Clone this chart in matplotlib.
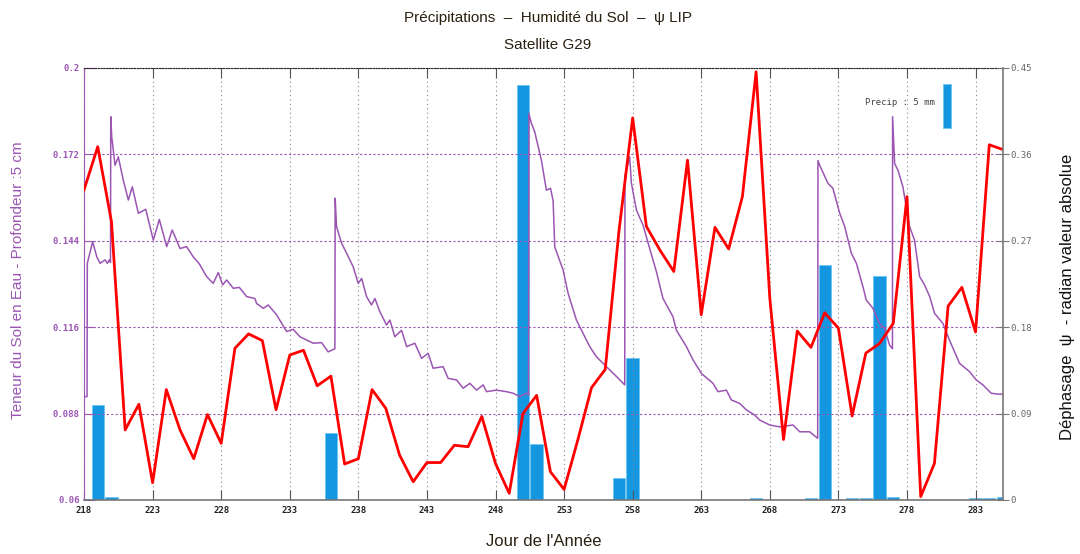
import matplotlib
matplotlib.use('Agg')
import matplotlib.pyplot as plt

# Jour de l'annee / phase (radian, valeur absolue)
phase_days = list(range(218, 286))
phase_vals = [0.323, 0.368, 0.29, 0.073, 0.0997, 0.018, 0.115, 0.073, 0.043, 0.089,
              0.059, 0.158, 0.173, 0.166, 0.094, 0.151, 0.156, 0.119, 0.129, 0.0375,
              0.043, 0.115, 0.0955, 0.047, 0.019, 0.039, 0.039, 0.057, 0.0555, 0.087,
              0.038, 0.007, 0.090, 0.109, 0.0295, 0.011, 0.0625, 0.117, 0.136, 0.28,
              0.398, 0.285, 0.26, 0.238, 0.354, 0.193, 0.284, 0.2615, 0.316, 0.446,
              0.21, 0.063, 0.176, 0.159, 0.195, 0.179, 0.0875, 0.153, 0.163, 0.184,
              0.316, 0.0035, 0.038, 0.202, 0.2215, 0.175, 0.37, 0.365]

# precipitations (mm)
precip_days = [218, 219, 220, 236, 250, 251, 257, 258, 267, 271, 272, 274, 275, 276, 277, 283, 284, 285]
precip_mm = [0.1, 10.8, 0.38, 7.65, 47.2, 6.36, 2.53, 16.1, 0.17, 0.17, 26.7, 0.17, 0.17, 25.45, 0.38, 0.17, 0.17, 0.34]

# humidite du sol (m3/m3), 5 cm
soil_days = [218.00, 218.22, 218.24, 218.63, 218.93, 219.17, 219.53, 219.70, 219.84, 219.93,
             219.95, 220.02, 220.26, 220.50, 220.86, 221.23, 221.52, 221.96, 222.50, 223.05,
             223.49, 224.03, 224.43, 225.00, 225.48, 225.96, 226.38, 226.94, 227.42, 227.79,
             228.11, 228.40, 228.88, 229.32, 229.86, 230.46, 230.58, 231.07, 231.43, 232.04,
             232.77, 233.25, 233.74, 234.71, 235.32, 235.80, 236.29, 236.31, 236.41, 236.78,
             237.14, 237.62, 237.99, 238.24, 238.60, 238.96, 239.21, 239.57, 240.06, 240.30,
             240.66, 241.15, 241.52, 242.12, 242.61, 243.09, 243.45, 244.18, 244.55, 245.16,
             245.64, 246.13, 246.62, 247.10, 247.35, 248.07, 248.80, 249.28, 249.77, 250.26,
             250.41, 250.43, 250.62, 250.86, 251.35, 251.71, 252.01, 252.20, 252.32, 252.93,
             253.29, 253.90, 254.27, 254.87, 255.36, 256.09, 256.82, 257.42, 257.44, 257.66,
             257.78, 257.91, 258.27, 258.76, 259.24, 259.73, 260.21, 260.94, 261.19, 261.92,
             262.40, 263.01, 263.86, 264.22, 264.83, 265.20, 265.80, 266.29, 266.90, 267.26,
             267.99, 268.72, 269.69, 270.18, 270.90, 271.49, 271.51, 271.63, 272.24, 272.60,
             273.09, 273.46, 273.94, 274.31, 274.79, 275.03, 275.52, 276.00, 276.37, 276.73,
             276.94, 276.95, 277.10, 277.34, 277.70, 277.95, 278.19, 278.55, 278.92, 279.28,
             279.65, 280.01, 280.62, 281.10, 281.83, 282.56, 283.05, 283.53, 284.14, 284.62,
             285.00]
soil_vals = [0.0935, 0.0935, 0.1367, 0.1437, 0.1388, 0.1367, 0.1378, 0.1367, 0.1378, 0.1370,
             0.1842, 0.1777, 0.1685, 0.1712, 0.1637, 0.1572, 0.1615, 0.1529, 0.1542, 0.1442,
             0.1509, 0.1421, 0.1475, 0.1415, 0.1421, 0.1388, 0.1367, 0.1324, 0.1302, 0.1337,
             0.1297, 0.1313, 0.1286, 0.1289, 0.1259, 0.1253, 0.1237, 0.1221, 0.1232, 0.1200,
             0.1146, 0.1153, 0.1129, 0.1108, 0.1110, 0.1080, 0.1090, 0.1578, 0.1486, 0.1432,
             0.1400, 0.1356, 0.1302, 0.1318, 0.1259, 0.1232, 0.1253, 0.1210, 0.1167, 0.1183,
             0.1129, 0.1150, 0.1097, 0.1108, 0.1059, 0.1075, 0.1027, 0.1032, 0.0994, 0.0989,
             0.0962, 0.0978, 0.0956, 0.0973, 0.0951, 0.0956, 0.0951, 0.0946, 0.0935, 0.0946,
             0.0940, 0.1853, 0.1820, 0.1793, 0.1700, 0.1604, 0.1610, 0.1570, 0.1420, 0.1345,
             0.1270, 0.1183, 0.1150, 0.1097, 0.1064, 0.1032, 0.1000, 0.0973, 0.1650, 0.1690,
             0.1712, 0.1626, 0.1540, 0.1490, 0.1415, 0.1340, 0.1253, 0.1194, 0.1150, 0.1097,
             0.1054, 0.1010, 0.0978, 0.0951, 0.0956, 0.0924, 0.0913, 0.0892, 0.0875, 0.0859,
             0.0843, 0.0837, 0.0843, 0.0821, 0.0821, 0.0800, 0.1700, 0.1685, 0.1626, 0.1610,
             0.1530, 0.1486, 0.1400, 0.1367, 0.1291, 0.1248, 0.1221, 0.1172, 0.1156, 0.1102,
             0.1090, 0.1842, 0.1690, 0.1669, 0.1615, 0.1550, 0.1486, 0.1442, 0.1324, 0.1297,
             0.1260, 0.1205, 0.1172, 0.1118, 0.1043, 0.1016, 0.0989, 0.0973, 0.0946, 0.0943,
             0.0943]

x_ticks = list(range(218, 284, 5))
soil_ticks = [0.06, 0.088, 0.116, 0.144, 0.172, 0.2]
soil_tick_labels = ['0.06', '0.088', '0.116', '0.144', '0.172', '0.2']
phase_ticks = [0, 0.09, 0.18, 0.27, 0.36, 0.45]
phase_tick_labels = ['0', '0.09', '0.18', '0.27', '0.36', '0.45']
legend_mm = 5

PURPLE = '#9b55b3'
BLUE = '#1497e0'
narrow = ['Liberation Sans Narrow', 'Liberation Sans', 'DejaVu Sans']
mono = {'family': 'DejaVu Sans Mono', 'size': 6.5, 'weight': 'bold'}

fig = plt.figure(figsize=(10.8, 5.54), dpi=100)
ax = fig.add_axes([0.0778, 0.0975, 0.8509, 0.7798])
ax_r = ax.twinx()
ax_b = ax.twinx()

# bars under everything, then soil moisture, then phase on top
ax_b.set_zorder(0)
ax.set_zorder(1)
ax_r.set_zorder(2)
ax.patch.set_visible(False)
ax_r.patch.set_visible(False)
ax_b.patch.set_facecolor('white')

# precip bars: 5 mm = 44 px on a 432 px high plot
precip_top = 432 / 44 * legend_mm
ax_b.bar(precip_days, precip_mm, width=0.9, color=BLUE, edgecolor='#6cc6f2', linewidth=0.6)
ax_b.set_ylim(0, precip_top)
ax_b.set_yticks([])
for s in ax_b.spines.values():
    s.set_visible(False)

# legend key
ax_b.bar([280.89], [legend_mm], bottom=precip_top - legend_mm - 16 / 44 * legend_mm,
         width=0.58, color=BLUE, edgecolor='#6cc6f2', linewidth=0.6)
ax_b.text(280.0, precip_top - 35 / 44 * legend_mm, 'Precip : 5 mm', ha='right', va='center',
          fontdict={'family': 'DejaVu Sans Mono', 'size': 6.5}, color='#444')

# soil moisture
ax.plot(soil_days, soil_vals, color=PURPLE, lw=1.1)
ax.set_xlim(218, 285)
ax.set_ylim(0.06, 0.2)
ax.set_xticks(x_ticks)
ax.set_xticklabels([str(t) for t in x_ticks], fontdict=mono, color='#222')
ax.set_yticks(soil_ticks)
ax.set_yticklabels(soil_tick_labels, fontdict=mono, color=PURPLE)
ax.tick_params(axis='x', direction='in', top=True, length=7, color='#555', pad=4)
ax.tick_params(axis='y', direction='in', length=8, color=PURPLE, pad=3)
ax.grid(axis='x', ls=(0, (1, 3)), color='#888', lw=0.8)
ax.grid(axis='y', ls=(0, (2, 2)), color=PURPLE, lw=0.8)
ax.spines['left'].set_color(PURPLE)
ax.spines['bottom'].set_color('#777')
ax.spines['bottom'].set_linewidth(1.2)
ax.spines['top'].set_linestyle((0, (1, 1.5)))
ax.spines['top'].set_color('#222')
ax.spines['right'].set_visible(False)

# phase
ax_r.plot(phase_days, phase_vals, color='#ff0000', lw=2)
ax_r.set_ylim(0, 0.45)
ax_r.set_yticks(phase_ticks)
ax_r.set_yticklabels(phase_tick_labels, fontdict={'family': 'DejaVu Sans Mono', 'size': 6.5}, color='#666')
ax_r.tick_params(axis='y', direction='inout', length=9, color='#777', pad=1)
ax_r.spines['right'].set_color('#777')
ax_r.spines['right'].set_linewidth(1.2)
for k in ['left', 'top', 'bottom']:
    ax_r.spines[k].set_visible(False)

# titles and labels
fig.text(0.5074, 0.967, 'Précipitations  –  Humidité du Sol  –  ψ LIP', ha='center', va='center',
         family=narrow, fontsize=11, color='#2a2010')
fig.text(0.5074, 0.918, 'Satellite G29', ha='center', va='center',
         family=narrow, fontsize=11, color='#2a2010')
fig.text(0.5037, 0.023, "Jour de l'Année", ha='center', va='center',
         family=narrow, fontsize=12, color='#2a2010')
fig.text(0.017, 0.495, 'Teneur du Sol en Eau - Profondeur :5 cm', ha='center', va='center',
         rotation=90, family=narrow, fontsize=11, color=PURPLE)
fig.text(0.988, 0.465, 'Déphasage  ψ  - radian valeur absolue', ha='center', va='center',
         rotation=90, family=narrow, fontsize=12, color='#111')

fig.savefig('out.png', dpi=100)
